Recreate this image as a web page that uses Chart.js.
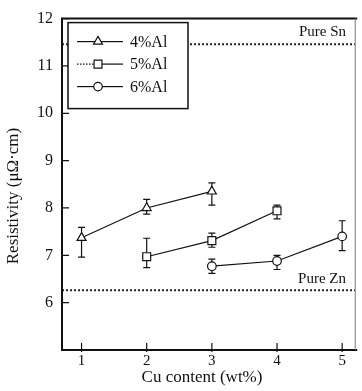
<!DOCTYPE html>
<html lang="en">
<head>
    <meta charset="UTF-8">
    <title>Resistivity vs Cu content</title>
    <style>
        html, body { margin: 0; padding: 0; background: #fff; }
        #wrap { width: 362px; height: 391px; }
    </style>
</head>
<body>
    <div id="wrap"><canvas id="chart"></canvas></div>
    <script src="https://cdn.jsdelivr.net/npm/chart.js"></script>
    <script>
        // Valori
        const seriesNames = ["4%Al", "5%Al", "6%Al"];
        const al4X = [1, 2, 3];
        const al4Y = [7.37, 8.0, 8.35];
        const al4Up = [0.22, 0.18, 0.18];
        const al4Down = [0.41, 0.13, 0.29];
        const al5X = [2, 3, 4];
        const al5Y = [6.97, 7.31, 7.94];
        const al5Up = [0.39, 0.16, 0.12];
        const al5Down = [0.23, 0.14, 0.17];
        const al6X = [3, 4, 5];
        const al6Y = [6.77, 6.88, 7.40];
        const al6Up = [0.15, 0.12, 0.33];
        const al6Down = [0.15, 0.18, 0.30];
        const pureSn = 11.46;
        const pureZn = 6.26;
        const xTicks = [1, 2, 3, 4, 5];
        const yTicks = [5, 6, 7, 8, 9, 10, 11, 12];
        const xTitle = "Cu content (wt%)";
        const yTitle = "Resistivity (μΩ·cm)";

        const serif = "'Liberation Serif', 'DejaVu Serif', serif";
        const X_MIN = 0.7, X_MAX = 5.2;

        function pts(xs, ys) {
            return xs.map((x, i) => ({x: x, y: ys[i]}));
        }

        const series = [
            {label: seriesNames[0], data: pts(al4X, al4Y), up: al4Up, down: al4Down, style: "triangle", r: 5.2},
            {label: seriesNames[1], data: pts(al5X, al5Y), up: al5Up, down: al5Down, style: "rect", r: 5.6},
            {label: seriesNames[2], data: pts(al6X, al6Y), up: al6Up, down: al6Down, style: "circle", r: 4.3}
        ];

        // Plugin: rama, tick-uri spre interior, bare de eroare, legenda, etichete
        const extras = {
            id: "extras",
            beforeDatasetsDraw(chart) {
                const ctx = chart.ctx, xs = chart.scales.x, ys = chart.scales.y;
                ctx.save();
                ctx.strokeStyle = "#111";
                ctx.lineWidth = 1.2;
                series.forEach(s => {
                    s.data.forEach((p, i) => {
                        const px = xs.getPixelForValue(p.x);
                        const top = ys.getPixelForValue(p.y + s.up[i]);
                        const bot = ys.getPixelForValue(p.y - s.down[i]);
                        ctx.beginPath();
                        ctx.moveTo(px, top); ctx.lineTo(px, bot);
                        ctx.moveTo(px - 3.5, top); ctx.lineTo(px + 3.5, top);
                        ctx.moveTo(px - 3.5, bot); ctx.lineTo(px + 3.5, bot);
                        ctx.stroke();
                    });
                });
                ctx.restore();
            },
            afterDatasetsDraw(chart) {
                const ctx = chart.ctx, a = chart.chartArea;
                const xs = chart.scales.x, ys = chart.scales.y;
                ctx.save();
                // rama
                ctx.strokeStyle = "#111";
                ctx.lineWidth = 2;
                ctx.beginPath();
                ctx.moveTo(a.right + 2, a.top); ctx.lineTo(a.left, a.top);
                ctx.lineTo(a.left, a.bottom); ctx.lineTo(a.right + 2, a.bottom);
                ctx.stroke();
                ctx.lineWidth = 1;
                ctx.strokeStyle = "#777";
                ctx.beginPath(); ctx.moveTo(a.right, a.top); ctx.lineTo(a.right, a.bottom); ctx.stroke();
                // tick-uri
                ctx.strokeStyle = "#111";
                ctx.lineWidth = 1.2;
                ctx.beginPath();
                xTicks.forEach(v => {
                    const px = xs.getPixelForValue(v);
                    ctx.moveTo(px, a.bottom + 2); ctx.lineTo(px, a.bottom - 7);
                });
                yTicks.slice(1).forEach(v => {
                    const py = ys.getPixelForValue(v);
                    ctx.moveTo(a.left, py); ctx.lineTo(a.left + 7, py);
                });
                ctx.stroke();
                // titlurile axelor
                ctx.fillStyle = "#111";
                ctx.font = "17px " + serif;
                ctx.textAlign = "center";
                ctx.textBaseline = "middle";
                ctx.fillText(xTitle, 202, 378);
                ctx.save();
                ctx.translate(14, 196);
                ctx.rotate(-Math.PI / 2);
                ctx.fillText(yTitle, 0, 0);
                ctx.restore();
                // etichete pentru liniile de referinta
                ctx.font = "15px " + serif;
                ctx.textAlign = "right";
                ctx.textBaseline = "alphabetic";
                ctx.fillText("Pure Sn", 346, ys.getPixelForValue(pureSn) - 8);
                ctx.fillText("Pure Zn", 346, ys.getPixelForValue(pureZn) - 7);
                // legenda
                const lx = a.left + 6, ly = a.top + 4, lw = 120, lh = 86;
                ctx.fillStyle = "#fff";
                ctx.fillRect(lx, ly, lw, lh);
                ctx.lineWidth = 1.5;
                ctx.strokeRect(lx, ly, lw, lh);
                series.forEach((s, i) => {
                    const y = ly + 19 + i * 22.5;
                    const mx = lx + 30;
                    ctx.lineWidth = 1.2;
                    ctx.strokeStyle = "#111";
                    if (i === 1) ctx.setLineDash([1.5, 1.5]);
                    ctx.beginPath(); ctx.moveTo(lx + 9, y); ctx.lineTo(mx, y); ctx.stroke();
                    ctx.setLineDash([]);
                    ctx.beginPath(); ctx.moveTo(mx, y); ctx.lineTo(lx + 55, y); ctx.stroke();
                    ctx.fillStyle = "#fff";
                    Chart.helpers.drawPoint(ctx, {pointStyle: s.style, radius: s.r, borderWidth: 1.2}, mx, y);
                    ctx.fillStyle = "#111";
                    ctx.textAlign = "left";
                    ctx.textBaseline = "middle";
                    ctx.font = "16px " + serif;
                    ctx.fillText(s.label, lx + 62, y + 1);
                });
                ctx.restore();
            }
        };

        const datasets = [
            {label: "Pure Sn", data: [{x: X_MIN, y: pureSn}, {x: X_MAX, y: pureSn}], borderColor: "#222", borderWidth: 2, borderDash: [2, 2], pointRadius: 0},
            {label: "Pure Zn", data: [{x: X_MIN, y: pureZn}, {x: X_MAX, y: pureZn}], borderColor: "#222", borderWidth: 2, borderDash: [2, 2], pointRadius: 0}
        ];
        series.forEach(s => {
            datasets.push({
                label: s.label,
                data: s.data,
                borderColor: "#111",
                borderWidth: 1.2,
                pointStyle: s.style,
                pointRadius: s.r,
                pointBackgroundColor: "#fff",
                pointBorderColor: "#111",
                pointBorderWidth: 1.2
            });
        });

        new Chart(document.getElementById("chart"), {
            type: "line",
            data: {datasets: datasets},
            options: {
                responsive: true,
                maintainAspectRatio: false,
                animation: false,
                layout: {padding: {left: 0, top: 17, right: 2, bottom: 0}},
                plugins: {legend: {display: false}, tooltip: {enabled: false}},
                scales: {
                    x: {
                        type: "linear",
                        min: X_MIN, max: X_MAX,
                        afterBuildTicks: sc => { sc.ticks = xTicks.map(v => ({value: v})); },
                        afterFit: sc => { sc.height = 41; },
                        grid: {display: false, drawTicks: false},
                        border: {display: false},
                        ticks: {color: "#111", font: {family: serif, size: 15}, padding: 2, maxRotation: 0}
                    },
                    y: {
                        min: 5, max: 12,
                        afterBuildTicks: sc => { sc.ticks = yTicks.map(v => ({value: v})); },
                        afterFit: sc => { sc.width = 62; },
                        grid: {display: false, drawTicks: false},
                        border: {display: false},
                        ticks: {color: "#111", font: {family: serif, size: 16}, padding: 9,
                            callback: v => v >= 6 ? v : ""}
                    }
                }
            },
            plugins: [extras]
        });
    </script>
</body>
</html>
